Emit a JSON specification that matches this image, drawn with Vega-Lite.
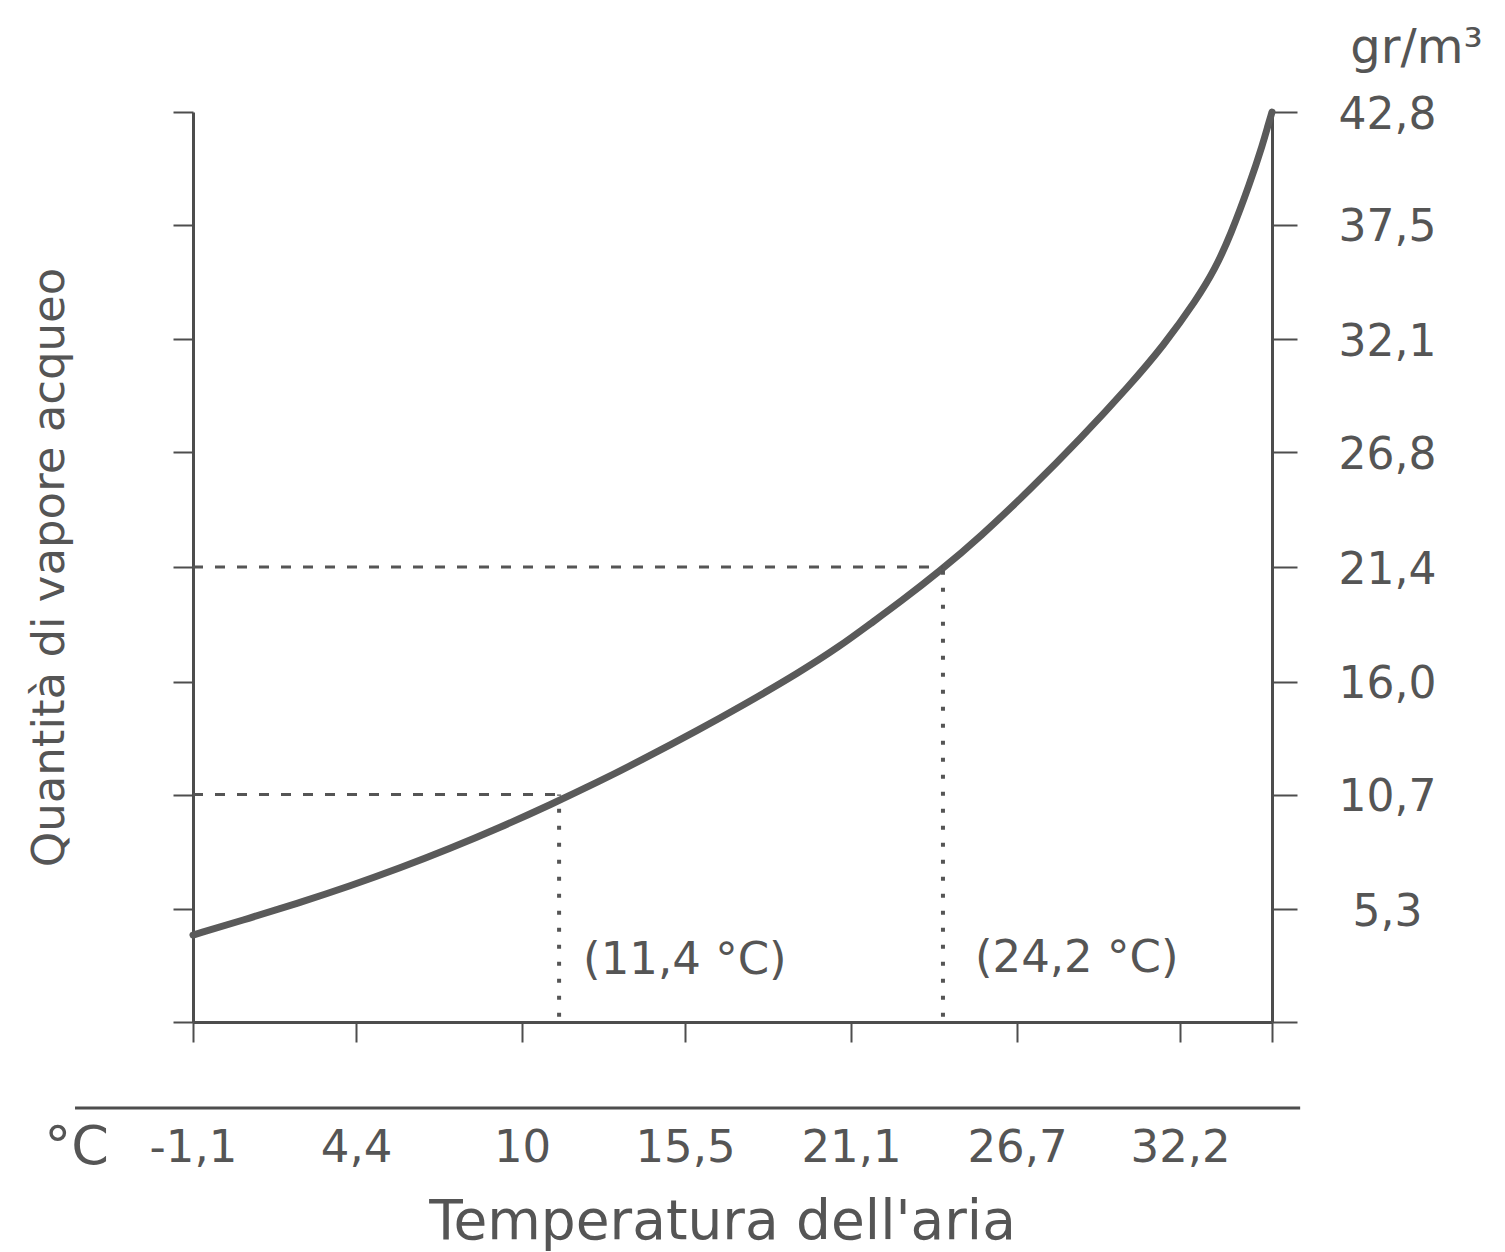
{
  "$schema": "https://vega.github.io/schema/vega-lite/v6.json",
  "width": 1079,
  "height": 910,
  "autosize": {"type": "none"},
  "padding": {"left": 193, "top": 112, "right": 233, "bottom": 230},
  "background": "white",
  "config": {
    "view": {"stroke": null},
    "font": "DejaVu Sans",
    "axis": {"grid": false}
  },
  "title": {
    "text": "Temperatura dell'aria",
    "orient": "bottom",
    "anchor": "middle",
    "frame": "group",
    "font": "DejaVu Sans",
    "fontSize": 55,
    "fontWeight": "normal",
    "color": "#555555",
    "offset": 22,
    "dx": -10
  },
  "datasets": {
    "curva": [
      {"t": -1.1, "v": 4.09},
      {"t": 0.82, "v": 4.89},
      {"t": 2.51, "v": 5.62},
      {"t": 4.2, "v": 6.4},
      {"t": 5.88, "v": 7.24},
      {"t": 7.57, "v": 8.16},
      {"t": 9.26, "v": 9.15},
      {"t": 10.94, "v": 10.21},
      {"t": 12.63, "v": 11.33},
      {"t": 13.98, "v": 12.28},
      {"t": 16.01, "v": 13.78},
      {"t": 17.36, "v": 14.82},
      {"t": 19.38, "v": 16.46},
      {"t": 20.73, "v": 17.68},
      {"t": 21.74, "v": 18.72},
      {"t": 22.75, "v": 19.75},
      {"t": 24.1, "v": 21.21},
      {"t": 25.45, "v": 22.81},
      {"t": 27.14, "v": 25.04},
      {"t": 28.83, "v": 27.42},
      {"t": 30.51, "v": 29.96},
      {"t": 31.63, "v": 31.79},
      {"t": 32.77, "v": 34.0},
      {"t": 33.38, "v": 35.42},
      {"t": 33.89, "v": 36.97},
      {"t": 34.56, "v": 39.46},
      {"t": 35.0, "v": 41.34},
      {"t": 35.17, "v": 42.19},
      {"t": 35.3, "v": 42.8}
    ],
    "riferimenti": [
      {"t1": -1.1, "t2": 24.2, "v1": 21.4, "v2": 21.4, "tipo": "orizzontale"},
      {"t1": 24.2, "t2": 24.2, "v1": 0.25, "v2": 21.4, "tipo": "verticale"},
      {"t1": -1.1, "t2": 11.25, "v1": 10.7, "v2": 10.7, "tipo": "orizzontale"},
      {"t1": 11.25, "t2": 11.25, "v1": 0.25, "v2": 10.7, "tipo": "verticale"}
    ],
    "etichette": [
      {"t": 12.06, "v": 2.92, "testo": "(11,4 °C)"},
      {"t": 25.28, "v": 3.01, "testo": "(24,2 °C)"}
    ],
    "linea": [
      {"t1": -5.08, "t2": 36.25, "v": -4.04}
    ]
  },
  "layer": [
    {
      "data": {"name": "curva"},
      "mark": {"type": "line", "color": "#5a5a5a", "strokeWidth": 7, "interpolate": "basis", "strokeCap": "round"},
      "encoding": {
        "x": {
          "field": "t", "type": "quantitative", "title": "°C",
          "scale": {"domain": [-1.1, 35.3], "nice": false, "zero": false},
          "axis": {
            "orient": "bottom",
            "title": "°C",
            "values": [-1.1, 4.4, 10, 15.5, 21.1, 26.7, 32.2, 35.3],
            "labelExpr": "datum.value > 35 ? '' : (datum.value < 0 ? '-' : '') + replace(format(abs(datum.value), '.1~f'), '.', ',')",
            "domainColor": "#4d4d4d", "domainWidth": 3,
            "tickColor": "#4d4d4d", "tickWidth": 2, "tickSize": 20,
            "labelFont": "DejaVu Sans", "labelFontSize": 45, "labelColor": "#555555",
            "labelPadding": 105, "labelBaseline": "middle", "labelAlign": "center",
            "labelOverlap": false, "labelFlush": false,
            "titleFont": "DejaVu Sans", "titleFontSize": 54, "titleFontWeight": "normal", "titleColor": "#555555",
            "titleX": -117, "titleY": 125, "titleAlign": "center", "titleBaseline": "middle", "titleAngle": 0
          }
        },
        "y": {
          "field": "v", "type": "quantitative",
          "scale": {"domain": [0, 42.8], "nice": false, "zero": false},
          "axis": {
            "orient": "left",
            "values": [0, 5.3, 10.7, 16.0, 21.4, 26.8, 32.1, 37.5, 42.8],
            "labels": false,
            "domainColor": "#4d4d4d", "domainWidth": 3,
            "tickColor": "#4d4d4d", "tickWidth": 2, "tickSize": 20,
            "title": "Quantità di vapore acqueo",
            "titleFont": "DejaVu Sans", "titleFontSize": 45, "titleFontWeight": "normal", "titleColor": "#555555",
            "titleX": -130, "titleY": 455, "titleAngle": 270, "titleAlign": "center", "titleBaseline": "alphabetic"
          }
        }
      }
    },
    {
      "data": {"name": "riferimenti"},
      "transform": [{"filter": "datum.tipo == 'orizzontale'"}],
      "mark": {"type": "rule", "color": "#555555", "strokeWidth": 3, "strokeDash": [10, 12]},
      "encoding": {
        "x": {"field": "t1", "type": "quantitative", "title": "°C", "scale": {"domain": [-1.1, 35.3], "nice": false, "zero": false}},
        "x2": {"field": "t2"},
        "y": {"field": "v1", "type": "quantitative", "scale": {"domain": [0, 42.8], "nice": false, "zero": false}, "axis": null},
        "y2": {"field": "v2"}
      }
    },
    {
      "data": {"name": "riferimenti"},
      "transform": [{"filter": "datum.tipo == 'verticale'"}],
      "mark": {"type": "rule", "color": "#555555", "strokeWidth": 4, "strokeDash": [4, 13]},
      "encoding": {
        "x": {"field": "t1", "type": "quantitative", "title": "°C", "scale": {"domain": [-1.1, 35.3], "nice": false, "zero": false}},
        "x2": {"field": "t2"},
        "y": {"field": "v1", "type": "quantitative", "scale": {"domain": [0, 42.8], "nice": false, "zero": false}, "axis": null},
        "y2": {"field": "v2"}
      }
    },
    {
      "data": {"name": "linea"},
      "mark": {"type": "rule", "color": "#4d4d4d", "strokeWidth": 3},
      "encoding": {
        "x": {"field": "t1", "type": "quantitative", "title": "°C", "scale": {"domain": [-1.1, 35.3], "nice": false, "zero": false}},
        "x2": {"field": "t2"},
        "y": {"field": "v", "type": "quantitative", "scale": {"domain": [0, 42.8], "nice": false, "zero": false}, "axis": null}
      }
    },
    {
      "data": {"name": "etichette"},
      "mark": {"type": "text", "align": "left", "baseline": "middle", "font": "DejaVu Sans", "fontSize": 45, "color": "#555555"},
      "encoding": {
        "x": {"field": "t", "type": "quantitative", "title": "°C", "scale": {"domain": [-1.1, 35.3], "nice": false, "zero": false}},
        "y": {
          "field": "v", "type": "quantitative",
          "scale": {"domain": [0, 42.8], "nice": false, "zero": false},
          "axis": {
            "orient": "right",
            "values": [0, 5.3, 10.7, 16.0, 21.4, 26.8, 32.1, 37.5, 42.8],
            "format": ".1f",
            "labelExpr": "datum.value == 0 ? '' : replace(datum.label, '.', ',')",
            "domainColor": "#4d4d4d", "domainWidth": 3,
            "tickColor": "#4d4d4d", "tickWidth": 2, "tickSize": 25,
            "labelFont": "DejaVu Sans", "labelFontSize": 44, "labelColor": "#555555",
            "labelPadding": 90, "labelAlign": "center", "labelBaseline": "middle", "labelOffset": 3,
            "labelOverlap": false, "labelFlush": false,
            "title": "gr/m³",
            "titleFont": "DejaVu Sans", "titleFontSize": 48, "titleFontWeight": "normal", "titleColor": "#555555",
            "titleX": 144, "titleY": -50, "titleAngle": 0, "titleAlign": "center", "titleBaseline": "alphabetic"
          }
        },
        "text": {"field": "testo", "type": "nominal"}
      }
    }
  ],
  "resolve": {"axis": {"y": "independent"}}
}
